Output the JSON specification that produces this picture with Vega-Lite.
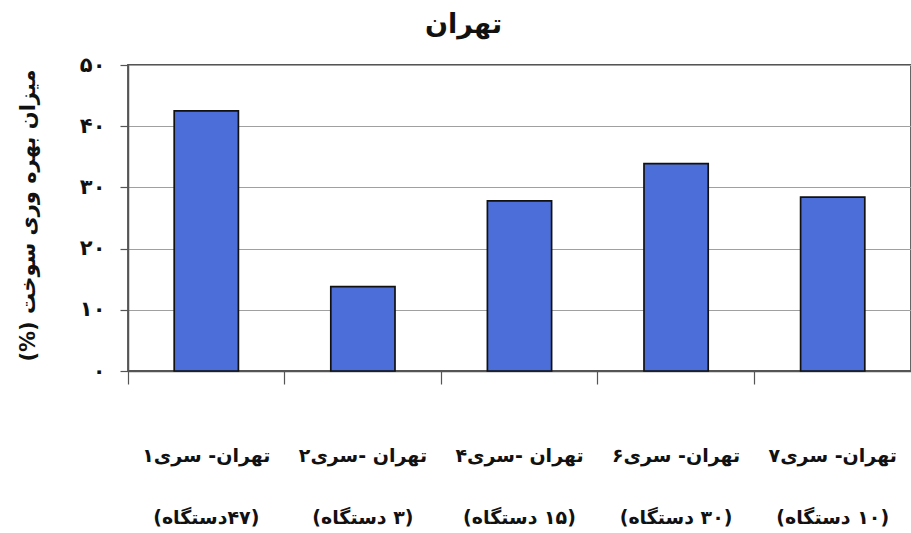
{
  "$schema": "https://vega.github.io/schema/vega-lite/v6.json",
  "autosize": {"type": "none"},
  "width": 783,
  "height": 306,
  "padding": {"left": 128, "top": 65, "right": 0, "bottom": 162},
  "background": "white",
  "title": {
    "text": "تهران",
    "font": "DejaVu Sans",
    "fontSize": 27,
    "fontWeight": "bold",
    "color": "#111111",
    "anchor": "middle",
    "frame": "group",
    "baseline": "alphabetic",
    "dx": -56,
    "dy": 33,
    "offset": 27
  },
  "data": {
    "values": [
      {"label": "تهران- سری۱\n\u200f(۴۷دستگاه)\u200f", "value": 42.5},
      {"label": "تهران -سری۲\n\u200f(۳ دستگاه)\u200f", "value": 13.8},
      {"label": "تهران -سری۴\n\u200f(۱۵ دستگاه)\u200f", "value": 27.8},
      {"label": "تهران- سری۶\n\u200f(۳۰ دستگاه)\u200f", "value": 33.9},
      {"label": "تهران- سری۷\n\u200f(۱۰ دستگاه)\u200f", "value": 28.4}
    ]
  },
  "mark": {
    "type": "bar",
    "width": {"band": 0.41},
    "fill": "#4B6ED8",
    "stroke": "#111111",
    "strokeWidth": 1.7
  },
  "encoding": {
    "x": {
      "field": "label",
      "type": "nominal",
      "sort": null,
      "scale": {"paddingInner": 0, "paddingOuter": 0},
      "axis": {
        "title": null,
        "labelAngle": 0,
        "labelExpr": "split(datum.label, '\\n')",
        "labelFont": "DejaVu Sans",
        "labelFontSize": 19,
        "labelFontWeight": "bold",
        "labelColor": "#111111",
        "labelBaseline": "alphabetic",
        "labelLineHeight": 62,
        "labelPadding": 77,
        "labelDx": 8,
        "bandPosition": 0,
        "tickSize": 13,
        "tickColor": "#555555",
        "tickWidth": 1.2,
        "domainColor": "#555555",
        "domainWidth": 1.5,
        "grid": false
      }
    },
    "y": {
      "field": "value",
      "type": "quantitative",
      "scale": {"domain": [0, 50], "nice": false},
      "axis": {
        "title": "میزان بهره وری سوخت (%)\u200f",
        "titleFont": "DejaVu Sans",
        "titleFontSize": 21,
        "titleFontWeight": "bold",
        "titleColor": "#111111",
        "titleAngle": -90,
        "titleBaseline": "middle",
        "titleAlign": "center",
        "titleX": -100,
        "titleY": 150,
        "values": [0, 10, 20, 30, 40, 50],
        "labelExpr": "['۰','۱۰','۲۰','۳۰','۴۰','۵۰'][datum.value / 10]",
        "labelFont": "DejaVu Sans",
        "labelFontSize": 21,
        "labelFontWeight": "bold",
        "labelColor": "#111111",
        "labelPadding": 15,
        "tickSize": 8,
        "tickColor": "#555555",
        "tickWidth": 1.2,
        "domainColor": "#555555",
        "domainWidth": 1.5,
        "grid": true,
        "gridColor": "#a0a0a0",
        "gridWidth": 1
      }
    }
  },
  "config": {
    "view": {"stroke": "#555555", "strokeWidth": 1.8}
  }
}
